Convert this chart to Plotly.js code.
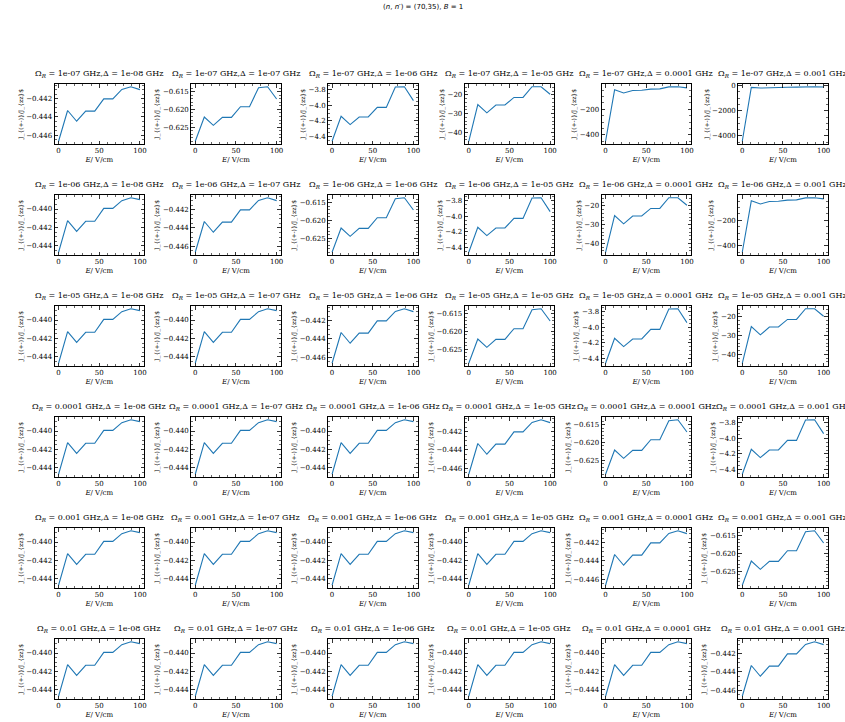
<!DOCTYPE html>
<html>
<head>
<meta charset="utf-8">
<script src="https://cdn.plot.ly/plotly-3.0.1.min.js"></script>
<style>html,body{margin:0;padding:0;background:#fff;}</style>
</head>
<body>
<div id="chart" style="width:845px;height:722px;"></div>
<script>
// Electric field values (V/cm)
const fieldE = [0, 11.11, 22.22, 33.33, 44.44, 55.56, 66.67, 77.78, 88.89, 100];

// Row / column parameter labels
const omegaLabels = ['1e-07', '1e-06', '1e-05', '0.0001', '0.001', '0.01'];
const deltaLabels = ['1e-08', '1e-07', '1e-06', '1e-05', '0.0001', '0.001'];

// Distinct curve families
const seriesA = [-0.44470, -0.44126, -0.44242, -0.44133, -0.44133, -0.43993, -0.43993, -0.43909, -0.43877, -0.43898];
const seriesB = [-0.44667, -0.44329, -0.44447, -0.44336, -0.44336, -0.44201, -0.44201, -0.44097, -0.44068, -0.44100];
const seriesC = [-0.62897, -0.62215, -0.62449, -0.62224, -0.62224, -0.61925, -0.61925, -0.61393, -0.61364, -0.61710];
const seriesD = [-4.46, -4.14, -4.247, -4.149, -4.149, -4.026, -4.026, -3.766, -3.762, -3.94];
const seriesE = [-44.7, -25.2, -29.6, -25.4, -25.4, -21.4, -21.4, -15.7, -15.7, -19.7];
const seriesF = [-450, -47, -72, -52, -51, -42, -40, -24, -23, -32];
const seriesG = [-4420, -140, -190, -150, -150, -120, -115, -85, -84, -100];

// Which family each panel shows (rows = Omega_R, cols = Delta)
const panelFamily = [
  ['B', 'C', 'D', 'E', 'F', 'G'],
  ['A', 'B', 'C', 'D', 'E', 'F'],
  ['A', 'A', 'B', 'C', 'D', 'E'],
  ['A', 'A', 'A', 'B', 'C', 'D'],
  ['A', 'A', 'A', 'A', 'B', 'C'],
  ['A', 'A', 'A', 'A', 'A', 'B']
];

const families = {A: seriesA, B: seriesB, C: seriesC, D: seriesD, E: seriesE, F: seriesF, G: seriesG};
const famTick = {
  A: {dtick: 0.002, minor: 0.0005, fmt: '.3f'},
  B: {dtick: 0.002, minor: 0.0005, fmt: '.3f'},
  C: {dtick: 0.005, minor: 0.001, fmt: '.3f'},
  D: {dtick: 0.2, minor: 0.05, fmt: '.1f'},
  E: {dtick: 10, minor: 2, fmt: '.0f'},
  F: {dtick: 200, minor: 50, fmt: '.0f'},
  G: {dtick: 2000, minor: 500, fmt: '.0f'}
};

const W = 845, H = 722;
const colLeft = [54.5, 191.2, 328, 464.7, 601.5, 738.2];
const colW = 89.5;
const rowTop = [84, 195, 306, 417, 528, 639];
const rowH = 60;

const serif = 'DejaVu Serif, serif';
const traces = [];
const layout = {
  width: W, height: H,
  margin: {l: 0, r: 0, t: 0, b: 0},
  paper_bgcolor: '#fff', plot_bgcolor: '#fff',
  showlegend: false,
  annotations: []
};

function pad(lo, hi, f) { const r = hi - lo; return [lo - f * r, hi + f * r]; }

let k = 0;
for (let r = 0; r < 6; r++) {
  for (let c = 0; c < 6; c++) {
    k++;
    const sfx = k === 1 ? '' : String(k);
    const fam = panelFamily[r][c];
    const ys = families[fam];
    traces.push({
      x: fieldE, y: ys, type: 'scatter', mode: 'lines',
      line: {color: '#1f77b4', width: 1.1},
      xaxis: 'x' + sfx, yaxis: 'y' + sfx, hoverinfo: 'skip'
    });
    const x0 = colLeft[c] / W, x1 = (colLeft[c] + colW) / W;
    const y1 = 1 - rowTop[r] / H, y0 = 1 - (rowTop[r] + rowH) / H;
    const ft = famTick[fam];
    const common = {
      showline: true, linecolor: '#000', linewidth: 1, mirror: 'allticks',
      ticks: 'inside', ticklen: 3.5, tickwidth: 0.8, tickcolor: '#000',
      showgrid: false, zeroline: false,
      tickfont: {family: serif, size: 7, color: '#000'}
    };
    layout['xaxis' + sfx] = Object.assign({}, common, {
      domain: [x0, x1], anchor: 'y' + sfx,
      range: pad(Math.min(...fieldE), Math.max(...fieldE), 0.05),
      dtick: 50, tick0: 0,
      minor: {ticks: 'inside', ticklen: 2, tickwidth: 0.6, tickcolor: '#000', dtick: 10, showgrid: false},
      title: {text: '<i>E</i>/ V/cm', font: {family: serif, size: 7, color: '#000'}, standoff: 2}
    });
    layout['yaxis' + sfx] = Object.assign({}, common, {
      domain: [y0, y1], anchor: 'x' + sfx,
      range: pad(Math.min(...ys), Math.max(...ys), 0.05),
      dtick: ft.dtick, tick0: 0, tickformat: ft.fmt,
      minor: {ticks: 'inside', ticklen: 2, tickwidth: 0.6, tickcolor: '#000', dtick: ft.minor, showgrid: false},
      title: {text: 'J_{(+-)}/J_{zz}$', font: {family: serif, size: 6, color: '#000'}, standoff: 2}
    });
    layout.annotations.push({
      xref: 'paper', yref: 'paper',
      x: (x0 + x1) / 2, y: y1 + 3 / H,
      xanchor: 'center', yanchor: 'bottom', showarrow: false,
      text: 'Ω<sub><i>R</i></sub> = ' + omegaLabels[r] + ' GHz,Δ = ' + deltaLabels[c] + ' GHz',
      font: {family: serif, size: 8, color: '#000'}
    });
  }
}

layout.annotations.push({
  xref: 'paper', yref: 'paper', x: 0.5, y: 1 - 7 / H,
  xanchor: 'center', yanchor: 'middle', showarrow: false,
  text: '(<i>n</i>, <i>n′</i>) = (70,35), <i>B</i> = 1',
  font: {family: 'DejaVu Sans, sans-serif', size: 7, color: '#000'}
});

Plotly.newPlot('chart', traces, layout, {staticPlot: true, displayModeBar: false});
</script>
</body>
</html>
